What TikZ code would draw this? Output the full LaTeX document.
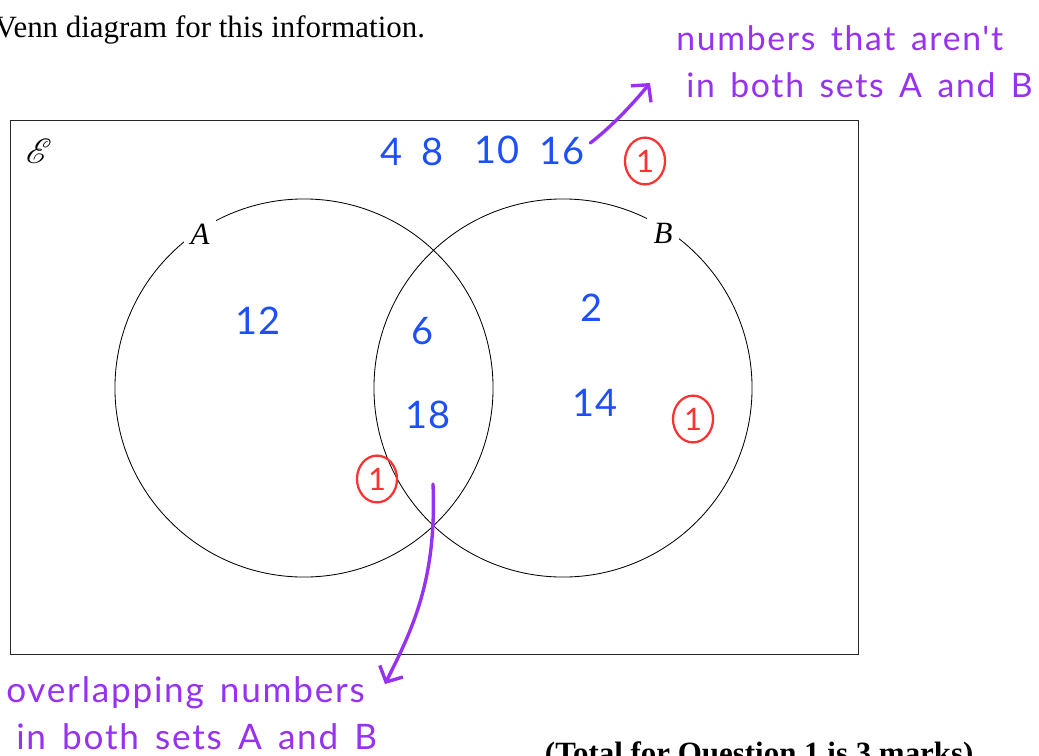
\documentclass[tikz,border=0pt]{standalone}
\usepackage{fontspec}
\setmainfont{Liberation Serif}
\newfontfamily\handfont{Lato}
\newfontfamily\notefont[LetterSpace=5,WordSpace=1.5]{Lato}
\usepackage{mathrsfs}
\usepackage{tikz}
\usetikzlibrary{arrows.meta,shapes.geometric}
\definecolor{penblue}{RGB}{30,80,250}
\definecolor{penpurple}{RGB}{150,50,240}
\definecolor{penred}{RGB}{250,50,50}

\begin{document}
\begin{tikzpicture}[x=0.025cm,y=-0.025cm,
	num/.style={text=penblue,font=\handfont\fontsize{27}{27}\selectfont,inner sep=0pt},
	ring/.style={ellipse,draw=penred,line width=1.6pt,text=penred,minimum width=1cm,minimum height=1.17cm,inner sep=0pt,font=\handfont\fontsize{22}{22}\selectfont},
	note/.style={text=penpurple,align=left,inner sep=0pt,font=\notefont\fontsize{25}{34}\selectfont},
	pen/.style={draw=penpurple,line width=2.4pt,line cap=round,-{Straight Barb[length=3mm,width=6.5mm,line width=2.4pt]}},
	setcircle/.style={circle,draw,line width=0.6pt,minimum size=9.45cm,inner sep=0pt},
	setlabel/.style={fill=white,inner sep=5pt,font=\fontsize{22}{22}\selectfont\itshape}
	]
	\useasboundingbox (0,0) rectangle (1039,756);

	\node[anchor=base east,font=\fontsize{22}{22}\selectfont] (intro) at (430,37) {Venn diagram for this information.};
	\node[anchor=base west,font=\fontsize{22}{22}\selectfont\bfseries] (total) at (540,763) {(Total for Question 1 is 3 marks)};

	\draw[line width=0.7pt,black!85] (10,120) rectangle (858,654);
	\node[font=\fontsize{30}{30}\selectfont] (univ) at (39,151) {$\mathscr{E}$};

	\node[setcircle] (setA) at (304,388) {};
	\node[setcircle] (setB) at (563,388) {};
	\node[setlabel] (labA) at (200,234) {A};
	\node[setlabel] (labB) at (663,233) {B};

	\node[num] (n4) at (392,152) {4};
	\node[num] (n8) at (433,152) {8};
	\node[num] (n10) at (497,150) {10};
	\node[num] (n16) at (562,151) {16};
	\node[num] (n12) at (258,321) {12};
	\node[num] (n6) at (423,331) {6};
	\node[num] (n18) at (428,415) {18};
	\node[num] (n2) at (592,308) {2};
	\node[num] (n14) at (595,403) {14};

	\node[ring] (mark1) at (645,161) {1};
	\node[ring] (mark2) at (693,419) {1};
	\node[ring] (mark3) at (377,479) {1};

	\node[note,anchor=north west,font=\notefont\fontsize{24}{34}\selectfont] (topnote) at (676,25) {numbers that aren't\\ \hspace*{0.25cm}in both sets A and B};
	\node[note,anchor=north west] (botnote) at (6,676) {overlapping numbers\\ \hspace*{0.25cm}in both sets A and B};

	\coordinate (tipA) at (650,83);
	\coordinate (overlap) at (433,484);
	\coordinate (tipB) at (385,684);
	\draw[pen] (n16.east) ++(6,-8) .. controls (610,128) and (632,105) .. (tipA);
	\draw[pen] (overlap) .. controls (437,580) and (412,630) .. (tipB);
\end{tikzpicture}
\end{document}
